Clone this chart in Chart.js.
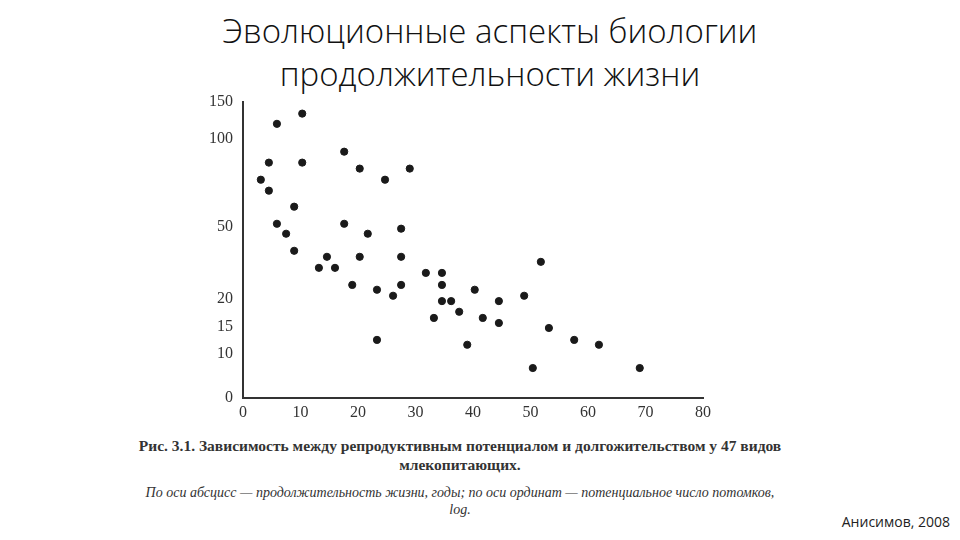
<!DOCTYPE html>
<html>
<head>
<meta charset="utf-8">
<script src="https://cdn.jsdelivr.net/npm/chart.js@4"></script>
<style>
body { margin: 0; width: 960px; height: 540px; background: #fff; position: relative; overflow: hidden; }
#title { position: absolute; left: 0; width: 980px; top: 9px; text-align: center; font-family: "Open Sans", sans-serif; font-weight: 300; font-size: 33px; line-height: 43px; color: #111; }
#wrap { position: absolute; left: 198px; top: 82px; width: 522px; height: 340px; }
.cap { position: absolute; font-family: "Liberation Serif", serif; color: #333; text-align: center; }
#cap1 { left: 100px; width: 720px; top: 436px; font-size: 15.5px; font-weight: bold; line-height: 19px; }
#cap2 { left: 100px; width: 720px; top: 484px; font-size: 14px; font-style: italic; line-height: 17px; }
#foot { position: absolute; right: 10px; top: 512px; font-family: "Open Sans", sans-serif; font-size: 14px; color: #222; }
</style>
</head>
<body>
<div id="title">Эволюционные аспекты биологии<br>продолжительности жизни</div>
<div id="wrap"><canvas id="chart-1"></canvas></div>
<div class="cap" id="cap1">Рис. 3.1. Зависимость между репродуктивным потенциалом и долгожительством у 47 видов<br>млекопитающих.</div>
<div class="cap" id="cap2">По оси абсцисс — продолжительность жизни, годы; по оси ординат — потенциальное число потомков,<br>log.</div>
<div id="foot">Анисимов, 2008</div>
<script>
// lifespan, years
const lifespan = [3.1, 4.5, 4.5, 5.9, 5.9, 7.5, 8.9, 8.9, 10.3, 10.3, 13.2, 14.6, 16.0, 17.6, 17.6, 19.0,
    20.3, 20.3, 21.7, 23.3, 23.3, 24.7, 26.1, 27.5, 27.5, 27.5, 29.0, 31.8, 33.2, 34.6, 34.6, 34.6,
    36.2, 37.6, 39.0, 40.3, 41.7, 44.5, 44.5, 48.9, 50.4, 51.8, 53.2, 57.6, 61.9, 69.0, 80.9];
// potential number of offspring
const offspring = [76.7, 70.5, 86.4, 120, 51.7, 47.1, 61.4, 40, 133.8, 86.4, 32.9, 37.5, 32.9, 92.6, 51.7, 25.8,
    83, 37.5, 47.1, 23.8, 12.6, 76.7, 21.3, 49.2, 37.5, 25.8, 83, 30.8, 16.6, 30.8, 25.8, 19.6,
    19.6, 17.7, 11.7, 23.8, 16.6, 19.6, 15.7, 21.3, 6.8, 35.4, 14.8, 12.6, 11.7, 6.8, 11.7];
const yTicks = [0, 10, 15, 20, 50, 100, 150];
// where each y tick sits along the axis (0 = bottom, 1 = top), as printed in the figure
const yTickPos = [0, 44 / 296, 71 / 296, 99 / 296, 171 / 296, 259 / 296, 1];
const xTicks = [0, 10, 20, 30, 40, 50, 60, 70, 80];

class PiecewiseScale extends Chart.LinearScale {
    getPixelForValue(value) {
        let f = 0;
        for (let i = 1; i < yTicks.length; i++) {
            if (value <= yTicks[i] || i === yTicks.length - 1) {
                const t = (value - yTicks[i - 1]) / (yTicks[i] - yTicks[i - 1]);
                f = yTickPos[i - 1] + t * (yTickPos[i] - yTickPos[i - 1]);
                break;
            }
        }
        return this.getPixelForDecimal(f);
    }
}
PiecewiseScale.id = 'piecewise';
PiecewiseScale.defaults = Chart.LinearScale.defaults;
Chart.register(PiecewiseScale);

const points = lifespan.map((x, i) => ({ x: x, y: offspring[i] }));
const tickFont = { family: 'Liberation Serif', size: 16 };

const chart_1 = new Chart(document.getElementById('chart-1'), {
    type: 'scatter',
    data: {
        datasets: [{
            data: points,
            backgroundColor: '#1a1a1a',
            borderColor: '#1a1a1a',
            pointRadius: 3.6,
            clip: false,
        }]
    },
    options: {
        responsive: true,
        maintainAspectRatio: false,
        animation: false,
        layout: { padding: { top: 18, right: 17, left: 0, bottom: 0 } },
        plugins: { legend: { display: false }, tooltip: { enabled: false } },
        scales: {
            x: {
                type: 'linear',
                min: 0,
                max: 80,
                afterBuildTicks: s => { s.ticks = xTicks.map(v => ({ value: v })); },
                afterFit: s => { s.height = 24; },
                grid: { display: false, drawTicks: false },
                border: { display: true, color: '#333', width: 2 },
                ticks: { color: '#333', font: tickFont, padding: 5 }
            },
            y: {
                type: 'piecewise',
                min: 0,
                max: 150,
                afterBuildTicks: s => { s.ticks = yTicks.map(v => ({ value: v })); },
                afterFit: s => { s.width = 45; },
                grid: { display: false, drawTicks: false },
                border: { display: true, color: '#333', width: 2 },
                ticks: { color: '#333', font: tickFont, padding: 10 }
            }
        }
    }
});
</script>
</body>
</html>
